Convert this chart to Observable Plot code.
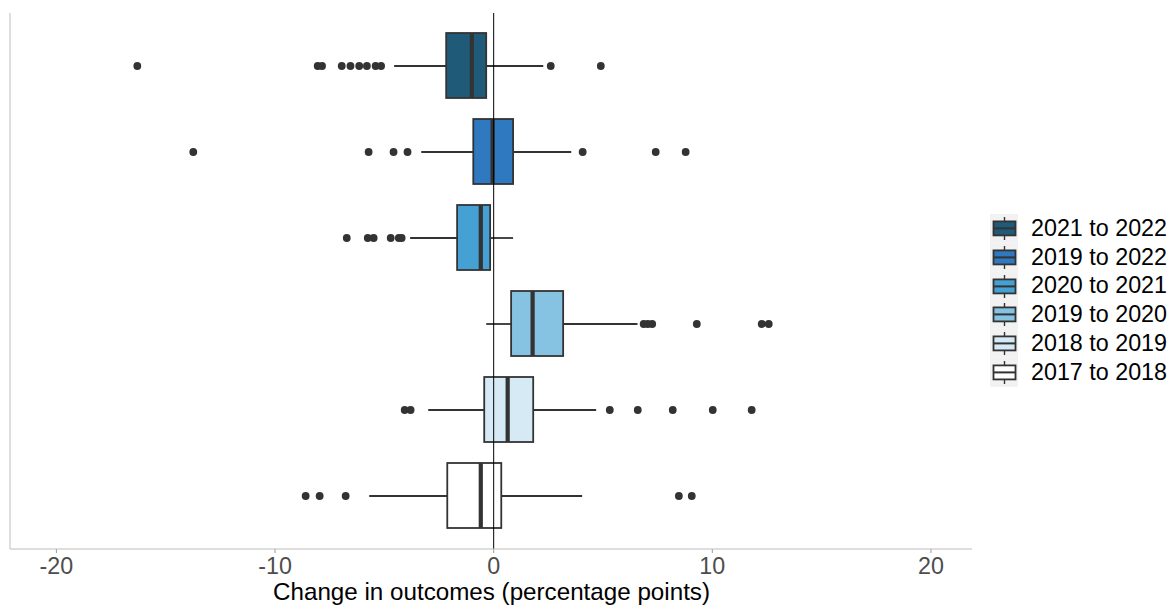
<!DOCTYPE html>
<html>
<head>
<meta charset="utf-8">
<script src="https://cdn.jsdelivr.net/npm/d3@7"></script>
<script src="https://cdn.jsdelivr.net/npm/@observablehq/plot@0.6"></script>
<style>
  html, body { margin: 0; padding: 0; background: #ffffff; }
  #wrap { position: relative; width: 1173px; height: 605px; font-family: "Liberation Sans", Arial, sans-serif; }
  #legend { position: absolute; left: 990px; top: 214px; }
  .lrow { display: flex; align-items: center; height: 28.8px; }
  .lrow svg { display: block; }
  .lab { margin-left: 13px; font-size: 23.3px; color: #000; white-space: nowrap; line-height: 1; }
</style>
</head>
<body>
<div id="wrap">
  <div id="chart"></div>
  <div id="legend"></div>
</div>
<script>
// ---- data ----
const categories = ["2021 to 2022", "2019 to 2022", "2020 to 2021", "2019 to 2020", "2018 to 2019", "2017 to 2018"];
const fills = ["#1f5b78", "#2e79bf", "#45a1d4", "#86c2e1", "#d6eaf6", "#ffffff"];
const whiskerLow = [-4.53, -3.29, -3.80, -0.32, -2.97, -5.67];
const q1 = [-2.15, -0.91, -1.65, 0.82, -0.41, -2.10];
const medians = [-1.00, -0.05, -0.59, 1.78, 0.64, -0.59];
const q3 = [-0.32, 0.91, -0.14, 3.20, 1.83, 0.37];
const whiskerHigh = [2.29, 3.57, 0.91, 6.60, 4.71, 4.07];
const outliers = [
  [-16.3, -8.05, -7.85, -6.95, -6.55, -6.15, -5.8, -5.4, -5.15, 2.61, 4.9],
  [-13.74, -5.72, -4.58, -3.94, 4.07, 7.41, 8.78],
  [-6.72, -5.76, -5.49, -4.71, -4.34, -4.21],
  [6.86, 7.05, 7.25, 9.29, 12.26, 12.58],
  [-4.07, -3.8, 5.31, 6.59, 8.19, 10.02, 11.8],
  [-8.6, -7.96, -6.77, 8.47, 9.06]
];
const xTicks = [-20, -10, 0, 10, 20];
const xTickLabels = ["-20", "-10", "0", "10", "20"];
const xLabel = "Change in outcomes (percentage points)";

// ---- tables built from the arrays ----
const boxes = categories.map((c, i) => ({
  period: c, lo: whiskerLow[i], q1: q1[i], med: medians[i], q3: q3[i], hi: whiskerHigh[i]
}));
const outlierRows = categories.flatMap((c, i) => outliers[i].map(v => ({period: c, value: v})));

const ink = "#333333";

const plot = Plot.plot({
  width: 1173,
  height: 605,
  marginLeft: 10,
  marginRight: 201,
  marginTop: 13,
  marginBottom: 56,
  style: {fontFamily: "Liberation Sans, Arial, sans-serif", background: "#ffffff"},
  x: {domain: [-22.1, 21.9], label: null},
  y: {domain: categories, paddingInner: 0.24, paddingOuter: 0.22, axis: null, label: null},
  color: {domain: categories, range: fills},
  marks: [
    Plot.ruleY(boxes, {y: "period", x1: "lo", x2: "q1", stroke: ink, strokeWidth: 1.8}),
    Plot.ruleY(boxes, {y: "period", x1: "q3", x2: "hi", stroke: ink, strokeWidth: 1.8}),
    Plot.barX(boxes, {y: "period", x1: "q1", x2: "q3", fill: "period", stroke: ink, strokeWidth: 1.8}),
    Plot.tickX(boxes, {y: "period", x: "med", stroke: ink, strokeWidth: 4.2}),
    Plot.dot(outlierRows, {x: "value", y: "period", r: 3.9, fill: ink, stroke: "none"}),
    Plot.ruleX([0], {stroke: "#000000", strokeWidth: 1}),
    Plot.axisX({
      ticks: xTicks,
      tickFormat: (d) => xTickLabels[xTicks.indexOf(d)],
      tickSize: 4,
      tickPadding: 4,
      stroke: "#9a9a9a",
      fill: "#4d4d4d",
      fontSize: 23.3,
      label: null
    }),
    Plot.text([xLabel], {
      frameAnchor: "bottom",
      dy: 43,
      lineAnchor: "middle",
      fontSize: 24.2,
      fill: "#000000"
    })
  ]
});

document.getElementById("chart").appendChild(plot);

// axis lines (left and bottom) placed from the plot's own scales
const xs = plot.scale("x"), ys = plot.scale("y");
const [x0, x1] = xs.range;
const [y0, y1] = ys.range;
const svg = d3.select(plot);
svg.append("line").attr("x1", x0).attr("x2", x0).attr("y1", y0).attr("y2", y1)
  .attr("stroke", "#bdbdbd").attr("stroke-width", 1);
svg.append("line").attr("x1", x0).attr("x2", x1).attr("y1", y1).attr("y2", y1)
  .attr("stroke", "#bdbdbd").attr("stroke-width", 1);

// legend
const legend = d3.select("#legend");
categories.forEach((c, i) => {
  const row = legend.append("div").attr("class", "lrow");
  const k = row.append("svg").attr("width", 28).attr("height", 28.8);
  k.append("rect").attr("x", 0).attr("y", 0).attr("width", 28).attr("height", 28.8).attr("fill", "#f2f2f2");
  k.append("line").attr("x1", 14.5).attr("x2", 14.5).attr("y1", 3).attr("y2", 26)
    .attr("stroke", ink).attr("stroke-width", 1.4);
  k.append("rect").attr("x", 3.5).attr("y", 7.4).attr("width", 22).attr("height", 14)
    .attr("fill", fills[i]).attr("stroke", ink).attr("stroke-width", 1.8);
  k.append("line").attr("x1", 3.5).attr("x2", 25.5).attr("y1", 14.4).attr("y2", 14.4)
    .attr("stroke", ink).attr("stroke-width", 2);
  row.append("span").attr("class", "lab").text(c);
});
</script>
</body>
</html>
